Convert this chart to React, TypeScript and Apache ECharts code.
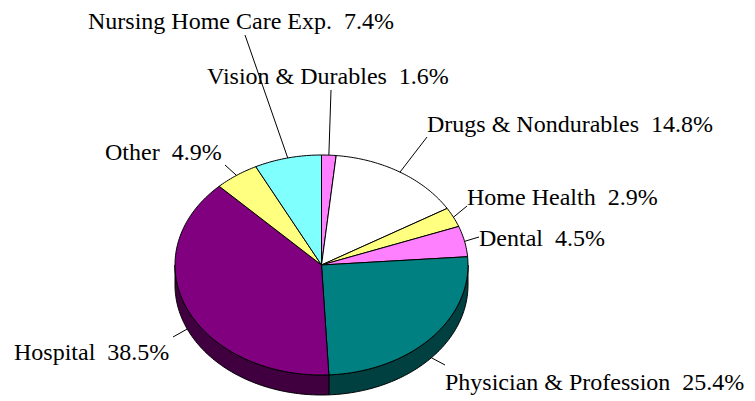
import React, { useEffect, useRef } from "react";
import * as echarts from "echarts";

// ---- data (clockwise from 12 o'clock) ----
const CATEGORIES = [
  "Vision & Durables",
  "Drugs & Nondurables",
  "Home Health",
  "Dental",
  "Physician & Profession",
  "Hospital",
  "Other",
  "Nursing Home Care Exp.",
];
const VALUES = [1.6, 14.8, 2.9, 4.5, 25.4, 38.5, 4.9, 7.4];

// ---- styles ----
const TOP_COLORS = ["#FF80FF", "#FFFFFF", "#FFFF80", "#FF80FF", "#008080", "#800080", "#FFFF80", "#80FFFF"];
const SIDE_COLORS = ["#804080", "#808080", "#808040", "#804080", "#004040", "#400040", "#808040", "#408080"];

// ---- layout: label text anchor (left, top) and leader-line end near label ----
const LABEL_TEXT_POS = [
  [207, 64],
  [427, 112],
  [467, 185],
  [479, 226],
  [445, 370],
  [14, 340],
  [105, 140],
  [88, 9],
];
const LEADER_END = [
  [331, 90],
  [427, 137],
  [467, 206],
  [479, 237],
  [445, 365],
  [173, 337],
  [225, 165],
  [245, 35],
];

const CX = 321.5;
const CY = 265;
const RX = 146.5;
const RY = 110;
const DEPTH = 20;
const FONT = "Liberation Serif";

function pt(theta: number, dy: number): number[] {
  return [CX + RX * Math.sin(theta), CY - RY * Math.cos(theta) + dy];
}

function arcPoints(a1: number, a2: number, dy: number): number[][] {
  const pts: number[][] = [];
  const steps = Math.max(2, Math.ceil(((a2 - a1) * 180) / Math.PI));
  for (let i = 0; i <= steps; i++) {
    pts.push(pt(a1 + ((a2 - a1) * i) / steps, dy));
  }
  return pts;
}

export default function App() {
  const ref = useRef<HTMLDivElement>(null);
  useEffect(() => {
    if (!ref.current) return;
    const chart = echarts.init(ref.current, undefined, { renderer: "svg" });
    const total = VALUES.reduce((a, b) => a + b, 0);

    const renderItem = (params: any, api: any) => {
      const idx = params.dataIndex;
      const v = api.value(0);
      let before = 0;
      for (let i = 0; i < idx; i++) before += VALUES[i];
      const a1 = (before / total) * Math.PI * 2;
      const a2 = ((before + v) / total) * Math.PI * 2;
      const mid = (a1 + a2) / 2;
      const children: any[] = [];

      // side band (front half only)
      const s1 = Math.max(a1, Math.PI / 2);
      const s2 = Math.min(a2, (Math.PI * 3) / 2);
      if (s2 > s1) {
        const top = arcPoints(s1, s2, 0);
        const bot = arcPoints(s1, s2, DEPTH).reverse();
        children.push({
          type: "polygon",
          shape: { points: top.concat(bot) },
          style: { fill: SIDE_COLORS[idx], stroke: "#000", lineWidth: 1 },
        });
      }

      // top face
      children.push({
        type: "polygon",
        shape: { points: [[CX, CY]].concat(arcPoints(a1, a2, 0)) },
        style: { fill: TOP_COLORS[idx], stroke: "#000", lineWidth: 1, lineJoin: "round" },
      });

      // leader line
      const front = mid > Math.PI / 2 && mid < (Math.PI * 3) / 2;
      const e = pt(mid, front ? DEPTH : 0);
      children.push({
        type: "line",
        shape: { x1: e[0], y1: e[1], x2: LEADER_END[idx][0], y2: LEADER_END[idx][1] },
        style: { stroke: "#000", lineWidth: 1 },
        z2: 10,
      });

      return { type: "group", children };
    };

    // labels drawn as graphic texts, text built from the data
    const labels = VALUES.map((v, i) => ({
      type: "text",
      x: LABEL_TEXT_POS[i][0],
      y: LABEL_TEXT_POS[i][1],
      z: 100,
      style: {
        text: CATEGORIES[i] + "  " + v.toFixed(1) + "%",
        fill: "#000",
        fontSize: 24,
        fontFamily: FONT,
      },
    }));

    chart.setOption({
      animation: false,
      graphic: labels,
      series: [
        {
          type: "custom",
          coordinateSystem: "none",
          renderItem,
          data: VALUES.map((v, i) => ({ name: CATEGORIES[i], value: v })),
        },
      ],
    });
    return () => chart.dispose();
  }, []);

  return (
    <div
      ref={ref}
      style={{ position: "fixed", left: 0, top: 0, width: 755, height: 401, background: "#fff" }}
    />
  );
}
